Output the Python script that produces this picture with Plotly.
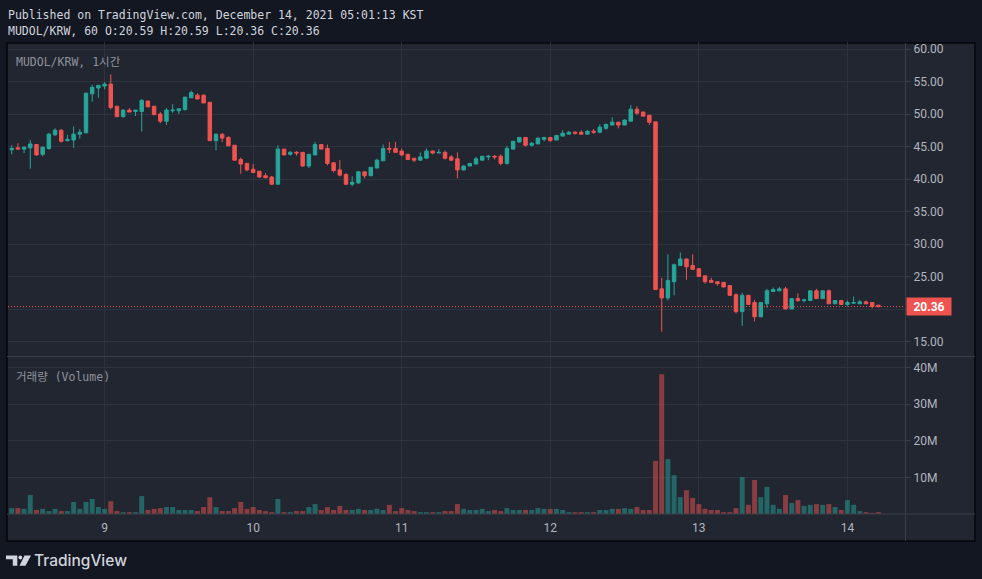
import plotly.graph_objects as go
import pandas as pd

# hourly candles, Dec 8 09:00 .. Dec 14 05:00 (KST)
opens = [44.5, 44.8, 44.6, 44.8, 45.3, 43.8, 44.7, 46.8, 47.5, 45.9,
         46.0, 46.9, 47.1, 53.1, 54.0, 54.3, 54.6, 51.2, 49.6, 50.6,
         50.4, 50.4, 52.0, 51.2, 50.0, 48.9, 50.5, 50.5, 50.7, 52.5,
         52.9, 52.9, 51.8, 45.9, 46.9, 46.4, 45.2, 43.0, 42.4, 41.5,
         41.2, 40.5, 40.3, 39.2, 44.6, 43.8, 44.1, 44.1, 42.0, 43.7,
         45.3, 44.7, 42.5, 41.4, 40.7, 39.2, 39.4, 41.1, 40.5, 41.7,
         42.8, 44.7, 44.7, 44.3, 43.8, 43.2, 42.9, 43.2, 44.3, 44.0,
         44.1, 43.4, 43.1, 41.4, 42.0, 42.3, 42.9, 43.4, 43.5, 43.5,
         42.4, 44.6, 45.7, 46.4, 45.2, 45.4, 46.1, 46.4, 46.0, 46.6,
         46.9, 47.2, 47.2, 46.9, 47.36, 47.2, 47.8, 48.3, 48.75, 48.3,
         48.9, 50.74, 50.3, 49.8, 48.8, 23.1, 21.7, 24.2, 26.7, 27.7,
         26.7, 26.2, 25.1, 24.4, 24.2, 24.1, 23.6, 22.2, 19.6, 22.1,
         21.0, 18.8, 20.8, 22.7, 22.8, 23.1, 20.0, 21.6, 21.3, 21.3,
         22.8, 21.6, 22.8, 20.8, 21.3, 20.7, 20.9, 20.8, 21.1, 21.0,
         20.59]
highs = [45.2, 45.5, 45.0, 46.0, 45.4, 45.0, 47.1, 47.8, 47.7, 46.8,
         48.1, 47.7, 53.3, 54.5, 54.5, 54.9, 56.1, 51.2, 50.7, 50.9,
         50.6, 52.3, 52.0, 51.2, 50.3, 50.9, 51.5, 50.9, 52.6, 53.6,
         53.2, 53.0, 51.8, 47.0, 47.0, 46.6, 45.2, 43.3, 42.4, 42.3,
         41.2, 40.9, 40.5, 45.2, 44.6, 44.3, 44.3, 44.1, 43.8, 45.7,
         45.3, 45.3, 42.5, 42.9, 40.9, 40.4, 41.2, 41.1, 41.8, 43.1,
         45.3, 45.7, 45.7, 44.7, 43.8, 43.2, 44.1, 44.7, 44.4, 44.6,
         44.4, 43.7, 44.1, 42.1, 42.4, 43.4, 43.5, 43.7, 43.7, 43.8,
         45.1, 45.8, 46.4, 46.4, 45.7, 46.3, 46.4, 46.4, 46.8, 47.5,
         47.4, 47.35, 47.5, 47.5, 47.7, 48.4, 48.55, 49.5, 48.75, 49.2,
         51.36, 51.2, 50.4, 49.9, 48.8, 24.8, 28.4, 27.0, 28.7, 27.7,
         28.4, 26.2, 25.1, 24.8, 24.2, 24.1, 23.6, 22.4, 22.5, 22.2,
         21.4, 21.0, 23.1, 23.3, 23.4, 23.4, 21.6, 22.4, 21.6, 22.8,
         23.1, 22.8, 23.0, 21.3, 21.4, 21.3, 21.9, 21.4, 21.3, 21.0,
         20.59]
lows = [43.8, 44.5, 44.0, 41.6, 43.6, 43.5, 44.5, 46.6, 45.6, 45.8,
        44.8, 46.2, 47.1, 51.9, 52.5, 53.8, 50.7, 49.5, 49.4, 50.3,
        49.7, 47.3, 51.1, 49.9, 48.6, 48.3, 50.2, 50.0, 50.5, 52.5,
        52.3, 51.7, 45.9, 44.4, 45.7, 45.1, 42.9, 40.8, 41.2, 41.0,
        40.2, 40.2, 39.1, 39.2, 43.7, 43.6, 43.6, 41.9, 41.7, 43.7,
        44.6, 42.1, 41.0, 40.4, 39.1, 38.9, 39.3, 40.1, 40.5, 41.6,
        42.8, 44.0, 44.1, 43.5, 43.0, 42.6, 42.8, 43.2, 43.8, 44.0,
        43.0, 42.8, 40.1, 41.3, 42.0, 42.3, 42.9, 42.9, 43.0, 42.1,
        42.2, 44.6, 45.6, 45.0, 45.0, 45.4, 45.8, 45.8, 46.0, 46.6,
        46.9, 46.85, 46.9, 46.9, 46.9, 47.05, 47.6, 48.3, 47.8, 48.3,
        48.9, 49.9, 49.67, 48.3, 23.0, 16.5, 21.3, 22.1, 26.7, 24.5,
        26.1, 25.0, 23.9, 24.1, 23.6, 23.3, 22.1, 19.3, 17.4, 20.7,
        18.1, 18.8, 20.2, 22.7, 22.8, 20.0, 20.0, 21.1, 21.0, 21.3,
        21.6, 21.6, 20.8, 20.8, 20.7, 20.4, 20.8, 20.8, 20.8, 20.1,
        20.36]
closes = [44.7, 44.6, 44.9, 45.4, 43.7, 44.9, 46.9, 47.5, 45.8, 46.1,
          46.9, 47.2, 53.2, 54.1, 54.4, 54.6, 51.0, 49.6, 50.6, 50.3,
          50.6, 52.1, 51.1, 49.9, 48.9, 50.6, 50.6, 50.8, 52.6, 53.3,
          52.3, 51.7, 45.9, 46.9, 46.3, 45.1, 42.9, 42.3, 41.4, 41.0,
          40.3, 40.2, 39.2, 44.6, 43.7, 44.1, 44.0, 42.0, 43.8, 45.3,
          44.6, 42.4, 41.3, 40.6, 39.2, 39.5, 41.1, 40.5, 41.8, 42.9,
          44.7, 44.6, 44.1, 43.7, 43.0, 42.9, 43.4, 44.3, 44.0, 44.1,
          43.2, 42.9, 41.4, 42.0, 42.4, 43.1, 43.5, 43.5, 43.4, 42.4,
          44.7, 45.8, 46.4, 45.2, 45.5, 46.3, 46.4, 45.9, 46.7, 47.05,
          47.2, 47.05, 46.9, 47.36, 47.2, 47.97, 48.4, 48.75, 48.3, 49.05,
          50.74, 50.13, 49.67, 48.74, 23.0, 21.7, 24.4, 26.8, 27.7, 26.5,
          26.1, 25.0, 24.2, 24.1, 23.9, 23.4, 22.1, 19.6, 22.1, 20.7,
          18.8, 21.0, 22.8, 23.0, 23.1, 20.0, 21.6, 21.3, 21.4, 22.8,
          21.6, 22.8, 20.8, 21.3, 20.7, 21.0, 21.0, 21.1, 20.8, 20.4,
          20.36]
volume_m = [1.6, 1.6, 1.4, 5.2, 1.1, 1.4, 0.8, 1.4, 0.8, 0.8,
            3.3, 1.4, 3.3, 4.1, 1.9, 1.4, 3.5, 0.8, 0.5, 0.5,
            0.5, 4.9, 1.1, 1.4, 1.6, 1.9, 1.9, 1.1, 1.1, 1.1,
            0.8, 1.9, 4.6, 1.9, 0.8, 0.8, 1.6, 3.3, 1.4, 1.9,
            1.1, 0.8, 0.5, 4.1, 0.5, 0.5, 0.8, 0.8, 1.9, 2.7,
            1.1, 1.9, 1.1, 2.2, 1.1, 1.1, 1.4, 1.1, 1.1, 1.4,
            1.1, 2.5, 0.8, 1.6, 1.1, 0.8, 0.5, 0.5, 0.5, 0.5,
            0.8, 0.8, 2.7, 1.4, 1.1, 1.1, 1.4, 0.8, 1.1, 0.8,
            1.6, 1.1, 1.1, 1.1, 1.1, 1.6, 1.4, 1.4, 1.4, 1.1,
            0.5, 0.5, 0.5, 0.5, 0.5, 1.1, 1.1, 1.4, 1.4, 1.6,
            1.4, 1.9, 1.1, 1.1, 14.5, 38.2, 15.0, 10.6, 4.6, 6.5,
            4.4, 2.7, 1.4, 1.1, 1.1, 0.5, 0.5, 1.6, 10.1, 2.5,
            9.3, 4.6, 7.4, 2.5, 1.4, 5.2, 3.0, 3.8, 2.2, 2.5,
            2.7, 2.5, 2.7, 1.9, 1.1, 3.8, 2.5, 0.8, 0.5, 0.3,
            0.5]

day_ticks = ["2021-12-09", "2021-12-10", "2021-12-11", "2021-12-12", "2021-12-13", "2021-12-14"]
day_labels = ["9", "10", "11", "12", "13", "14"]
price_ticks = [15, 20, 25, 30, 35, 40, 45, 50, 55, 60]
volume_ticks = [10, 20, 30, 40]

times = pd.date_range("2021-12-08 09:00", periods=len(closes), freq="h")

W, H = 982, 579
def px(x):
    return x / W
def py(y):
    return 1 - y / H

OUTER = "#131722"
PANEL = "#222631"
GRID = "#2e323d"
SEP = "#3a3e49"
UP = "#26a69a"
DOWN = "#ef5350"
TXT = "#b2b5be"
MONO = "DejaVu Sans Mono, Noto Sans CJK KR"

vol_colors = ["rgba(38,166,154,0.5)" if c >= o else "rgba(239,83,80,0.5)"
              for o, c in zip(opens, closes)]

fig = go.Figure()
fig.add_trace(go.Candlestick(
    x=times, open=opens, high=highs, low=lows, close=closes,
    increasing=dict(line=dict(color=UP, width=1), fillcolor=UP),
    decreasing=dict(line=dict(color=DOWN, width=1), fillcolor=DOWN),
    whiskerwidth=0, xaxis="x", yaxis="y", hoverinfo="skip",
))
fig.add_trace(go.Bar(
    x=times, y=volume_m, marker=dict(color=vol_colors, line=dict(width=0)),
    width=3600000 * 0.8, xaxis="x2", yaxis="y2", hoverinfo="skip",
))

x_range = [times[0] - pd.Timedelta(minutes=36), times[-1] + pd.Timedelta(minutes=258)]
tick_font = dict(family="Roboto, Noto Sans", size=12, color=TXT)

fig.update_layout(
    width=W, height=H, margin=dict(l=0, r=0, t=0, b=0),
    paper_bgcolor=OUTER, plot_bgcolor=PANEL, showlegend=False,
    boxgap=0.2,
    xaxis=dict(domain=[px(8), px(905)], anchor="y", range=x_range,
               rangeslider=dict(visible=False), tickvals=day_ticks,
               showticklabels=False, showgrid=True, gridcolor=GRID,
               zeroline=False, showline=False, ticks=""),
    xaxis2=dict(domain=[px(8), px(905)], anchor="y2", matches="x",
                tickvals=day_ticks, ticktext=day_labels, tickfont=tick_font,
                showgrid=True, gridcolor=GRID, zeroline=False, showline=False,
                ticks="", ticklabelstandoff=5),
    yaxis=dict(domain=[py(356), py(42)], range=[12.77, 61.08], side="right",
               anchor="x", tickvals=price_ticks,
               ticktext=["" if v == 20 else f"{v:.2f}" for v in price_ticks],
               tickfont=tick_font, showgrid=True, gridcolor=GRID, zeroline=False,
               ticks="outside", ticklen=5, tickcolor=SEP, showline=False),
    yaxis2=dict(domain=[py(514), py(357)], range=[0, 42.9], side="right",
                anchor="x2", tickvals=volume_ticks,
                ticktext=[f"{v}M" for v in volume_ticks],
                tickfont=tick_font, showgrid=True, gridcolor=GRID, zeroline=False,
                ticks="outside", ticklen=5, tickcolor=SEP, showline=False),
)

shapes = [
    dict(type="rect", xref="paper", yref="paper", x0=px(7), x1=px(975), y0=py(541), y1=py(43),
         fillcolor=PANEL, line=dict(color="#050609", width=1.5), layer="below"),
    dict(type="line", xref="paper", yref="paper", x0=px(905.5), x1=px(905.5), y0=py(541), y1=py(43),
         line=dict(color=SEP, width=1)),
    dict(type="line", xref="paper", yref="paper", x0=px(7), x1=px(975), y0=py(356.5), y1=py(356.5),
         line=dict(color=SEP, width=1)),
    dict(type="line", xref="paper", yref="paper", x0=px(7), x1=px(975), y0=py(514), y1=py(514),
         line=dict(color=SEP, width=1)),
    dict(type="line", xref="paper", yref="y", x0=px(8), x1=px(905), y0=closes[-1], y1=closes[-1],
         line=dict(color=DOWN, width=1, dash="1px,2px")),
]

def path(points):
    return "M " + " L ".join(f"{px(a)},{py(b)}" for a, b in points) + " Z"

logo = "#d1d4dc"
shapes += [
    dict(type="path", xref="paper", yref="paper", fillcolor=logo, line=dict(width=0),
         path=path([(6, 555.5), (17.3, 555.5), (17.3, 565.8), (12.8, 565.8), (12.8, 559.3), (6, 559.3)])),
    dict(type="circle", xref="paper", yref="paper", fillcolor=logo, line=dict(width=0),
         x0=px(18.5), x1=px(22.2), y0=py(559.4), y1=py(555.6)),
    dict(type="path", xref="paper", yref="paper", fillcolor=logo, line=dict(width=0),
         path=path([(24.5, 555.5), (31, 555.5), (25.5, 565.8), (19.5, 565.8)])),
]
fig.update_layout(shapes=shapes)

annotations = [
    dict(text="Published on TradingView.com, December 14, 2021 05:01:13 KST",
         x=px(6), y=py(15), font=dict(family=MONO, size=11.5, color="#d1d4dc")),
    dict(text="MUDOL/KRW, 60 O:20.59 H:20.59 L:20.36 C:20.36",
         x=px(6), y=py(31), font=dict(family=MONO, size=11.5, color="#d1d4dc")),
    dict(text="MUDOL/KRW, 1시간", x=px(14), y=py(62),
         font=dict(family=MONO, size=11.5, color="#8f929b")),
    dict(text="거래량 (Volume)", x=px(14), y=py(377),
         font=dict(family=MONO, size=11.5, color="#8f929b")),
    dict(text="TradingView", x=px(32), y=py(560.5),
         font=dict(family="Inter, Roboto", size=15.5, color=logo, weight=500)),
]
for a in annotations:
    a.update(xref="paper", yref="paper", xanchor="left", yanchor="middle", showarrow=False)
annotations.append(dict(
    text=f"<b>{closes[-1]:.2f}</b>", xref="paper", yref="y", x=px(905.5), y=closes[-1],
    xanchor="left", yanchor="middle", showarrow=False, bgcolor=DOWN,
    width=42, height=15, borderpad=1,
    font=dict(family="Roboto, Noto Sans", size=12, color="#ffffff"),
))
fig.update_layout(annotations=annotations)

fig.write_html("out.html", config={"displayModeBar": False},
               post_script="document.body.style.margin='0';")
